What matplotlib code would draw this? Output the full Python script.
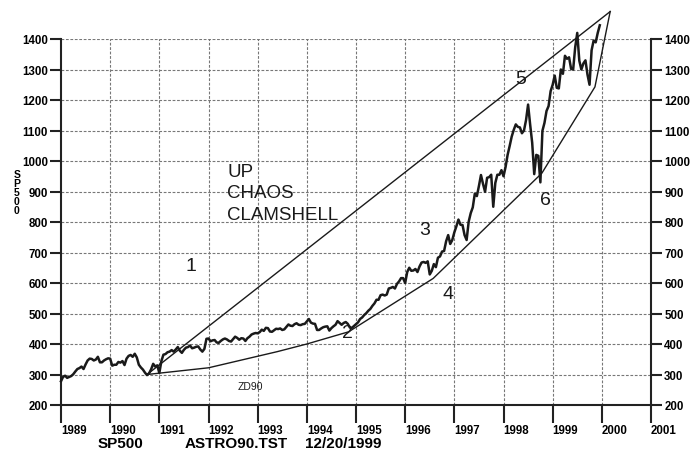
import matplotlib
matplotlib.use('Agg')
import matplotlib.pyplot as plt
import numpy as np

plt.rcParams['font.family'] = ['Liberation Sans', 'DejaVu Sans']

# semi-monthly S&P 500 readings, one list per year
p89 = [278, 292, 296, 289, 292, 295, 301, 310, 318, 321, 326, 318, 333, 346, 352, 351, 346, 349, 358, 340, 340, 346, 350, 353]
p90 = [352, 329, 332, 332, 341, 339, 344, 331, 352, 361, 364, 358, 368, 356, 332, 323, 316, 306, 298, 304, 317, 335, 326, 330]
p91 = [305, 344, 365, 367, 373, 375, 380, 375, 382, 390, 378, 371, 381, 388, 390, 395, 386, 388, 391, 392, 382, 375, 384, 417]
p92 = [418, 409, 412, 413, 405, 404, 410, 415, 418, 415, 410, 408, 416, 424, 420, 414, 419, 418, 410, 419, 424, 431, 434, 436]
p93 = [435, 439, 447, 443, 453, 452, 441, 440, 445, 450, 449, 451, 446, 448, 456, 464, 460, 459, 465, 468, 463, 462, 465, 466]
p94 = [474, 482, 470, 467, 466, 446, 446, 451, 455, 457, 458, 444, 452, 458, 463, 475, 469, 463, 469, 472, 466, 454, 453, 459]
p95 = [465, 471, 482, 487, 495, 501, 509, 515, 525, 533, 545, 545, 560, 562, 559, 562, 582, 584, 587, 582, 597, 605, 616, 616]
p96 = [600, 636, 650, 640, 641, 646, 636, 654, 667, 669, 666, 671, 628, 640, 662, 652, 683, 687, 703, 705, 737, 757, 728, 741]
p97 = [766, 786, 808, 791, 790, 757, 741, 801, 829, 848, 893, 885, 918, 954, 925, 899, 945, 947, 955, 850, 928, 955, 955, 970]
p98 = [950, 980, 1020, 1049, 1080, 1102, 1120, 1112, 1110, 1091, 1100, 1134, 1185, 1120, 1060, 957, 1020, 1017, 930, 1099, 1125, 1164, 1180, 1229]
p99 = [1250, 1280, 1240, 1238, 1300, 1286, 1345, 1335, 1340, 1302, 1300, 1373, 1420, 1329, 1300, 1320, 1330, 1283, 1250, 1363, 1395, 1389, 1420, 1445]

prices = np.array(p89 + p90 + p91 + p92 + p93 + p94 + p95 + p96 + p97 + p98 + p99)
dates = 1989 + np.arange(len(prices)) / 24.0

# clamshell envelope
upper_t = [1990.75, 2000.17]
upper_v = [300, 1490]
lower_t = [1990.75, 1992.0, 1993.4, 1994.0, 1994.85, 1996.57, 1998.78, 1999.86, 2000.17]
lower_v = [300, 322, 375, 400, 440, 615, 960, 1243, 1490]

years = list(range(1989, 2002))
levels = list(range(200, 1500, 100))

labels = [('1', 1991.64, 659), ('2', 1994.82, 439), ('3', 1996.40, 777),
          ('4', 1996.87, 564), ('5', 1998.34, 1272), ('6', 1998.86, 875)]

fig = plt.figure(figsize=(6.96, 4.52), dpi=100)
ax = fig.add_axes([61 / 696, 1 - 406 / 452, 590 / 696, 366 / 452])
ax.set_xlim(1989, 2001)
ax.set_ylim(200, 1400)

for y in levels[1:]:
    ax.plot([1989, 2001], [y, y], color='#777777', lw=0.8, ls=(0, (2.5, 1.5)), zorder=1)
for x in years[1:-1]:
    ax.plot([x, x], [200, 1400], color='#777777', lw=0.8, ls=(0, (2.5, 1.5)), zorder=1)

ax.plot(dates, prices, color='#1a1a1a', lw=1.8, clip_on=False, zorder=3)
ax.plot(upper_t, upper_v, color='#1a1a1a', lw=1.0, clip_on=False, zorder=2)
ax.plot(lower_t, lower_v, color='#1a1a1a', lw=1.0, clip_on=False, zorder=2)

ax.spines['top'].set_visible(False)
for s in ['left', 'right', 'bottom']:
    ax.spines[s].set_linewidth(1.5)
    ax.spines[s].set_color('#222222')

ax.set_xticks(years)
ax.set_xticklabels([str(y) for y in years], ha='left', fontsize=8.3, fontweight='bold')
ax.tick_params(axis='x', length=13, width=1.5, pad=1, color='#222222')
ax.set_yticks(levels)
ax.set_yticklabels([str(v) for v in levels], fontsize=8.3, fontweight='bold')
ax.tick_params(axis='y', length=8, width=1.5, pad=1.5, color='#222222',
               right=True, labelright=True)
for t in ax.yaxis.get_major_ticks():
    t.label2.set_fontweight('bold')
    t.label2.set_fontsize(8.3)

ax.text(17 / 696, 1 - 193 / 452, '\n'.join('SP500'), transform=fig.transFigure,
        ha='center', va='center', fontsize=7.5, fontweight='bold', linespacing=0.9)

for txt, x, y in [('UP', 1992.38, 967), ('CHAOS', 1992.38, 898), ('CLAMSHELL', 1992.38, 826)]:
    ax.text(x, y, txt, ha='left', va='center', fontsize=13.5, color='#1a1a1a')

for txt, x, y in labels:
    ax.text(x, y, txt, ha='center', va='center', fontsize=14, color='#1a1a1a')

ax.text(1992.86, 262, 'ZD90', ha='center', va='center', fontsize=7.5, color='#1a1a1a')

fig.text(98 / 696, 1 - 444 / 452, 'SP500', ha='left', va='center', fontsize=11, fontweight='bold')
fig.text(185 / 696, 1 - 444 / 452, 'ASTRO90.TST', ha='left', va='center', fontsize=11, fontweight='bold')
fig.text(305 / 696, 1 - 444 / 452, '12/20/1999', ha='left', va='center', fontsize=11, fontweight='bold')

fig.savefig('out.png', dpi=100)
